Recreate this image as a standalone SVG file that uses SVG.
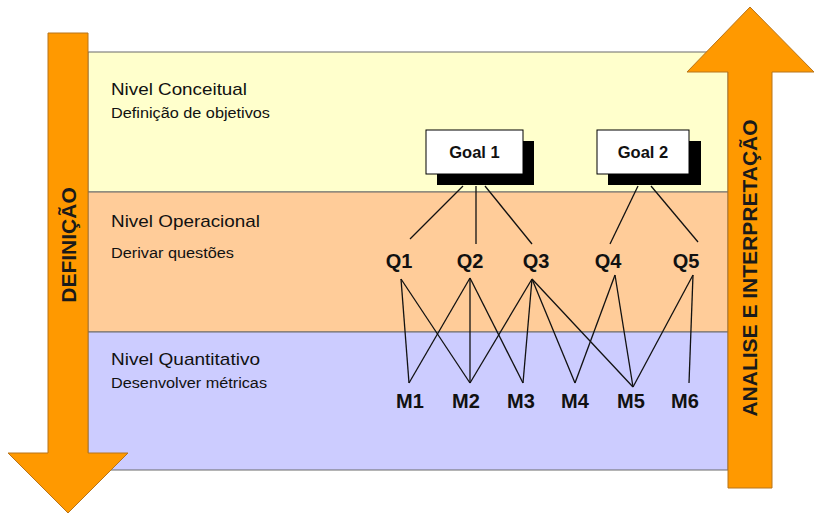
<svg xmlns="http://www.w3.org/2000/svg" width="815" height="514" viewBox="0 0 815 514">
  <style>
    .band { stroke: #6b6b6b; stroke-width: 1; }
    .arrow { fill: #ff9900; stroke: #b8741a; stroke-width: 1; }
    .arrowtxt { font-family: "Liberation Sans", Arial, sans-serif; font-weight: bold; font-size: 21px; fill: #1a1a1a; text-anchor: middle; }
    .lvl { font-family: "Liberation Sans", Arial, sans-serif; font-size: 17px; fill: #111; }
    .sub { font-family: "Liberation Sans", Arial, sans-serif; font-size: 14px; fill: #111; }
    .goal { fill: #fff; stroke: #000; stroke-width: 1; }
    .shadow { fill: #000; }
    .goaltxt { font-family: "Liberation Sans", Arial, sans-serif; font-weight: bold; font-size: 16.5px; fill: #111; text-anchor: middle; }
    .qm { font-family: "Liberation Sans", Arial, sans-serif; font-weight: bold; font-size: 20px; fill: #111; text-anchor: middle; }
    .link { stroke: #111; stroke-width: 1.3; fill: none; }
  </style>
  <rect width="815" height="514" fill="#ffffff"/>

  <!-- level bands -->
  <g id="bands">
    <rect class="band" x="88" y="52" width="640" height="140" fill="#ffffcc"/>
    <rect class="band" x="88" y="192" width="640" height="140" fill="#ffcc99"/>
    <rect class="band" x="88" y="332" width="640" height="138" fill="#ccccff"/>
    <text class="lvl" x="111" y="95" textLength="136" lengthAdjust="spacingAndGlyphs">Nivel Conceitual</text>
    <text class="sub" x="111" y="118" textLength="159" lengthAdjust="spacingAndGlyphs">Definição de objetivos</text>
    <text class="lvl" x="111" y="227" textLength="149" lengthAdjust="spacingAndGlyphs">Nivel Operacional</text>
    <text class="sub" x="111" y="258" textLength="123" lengthAdjust="spacingAndGlyphs">Derivar questões</text>
    <text class="lvl" x="111" y="365" textLength="149" lengthAdjust="spacingAndGlyphs">Nivel Quantitativo</text>
    <text class="sub" x="111" y="388" textLength="156" lengthAdjust="spacingAndGlyphs">Desenvolver métricas</text>
  </g>

  <!-- downward arrow: definition -->
  <g id="arrow-definicao">
    <polygon class="arrow" points="48,33 88,33 88,453 128,453 68,513 8,453 48,453"/>
    <text class="arrowtxt" transform="translate(76,245) rotate(-90)">DEFINIÇÃO</text>
  </g>

  <!-- upward arrow: analysis -->
  <g id="arrow-analise">
    <polygon class="arrow" points="728,488 772,488 772,72 814,72 750,7 687,72 728,72"/>
    <text class="arrowtxt" transform="translate(757,268) rotate(-90)">ANALISE E INTERPRETAÇÃO</text>
  </g>

  <!-- connectors -->
  <g id="connectors">
    <line class="link" x1="463" y1="186" x2="410" y2="239"/>
    <line class="link" x1="476" y1="186" x2="476" y2="244"/>
    <line class="link" x1="485" y1="186" x2="532" y2="244"/>
    <line class="link" x1="638" y1="186" x2="610" y2="244"/>
    <line class="link" x1="651" y1="186" x2="698" y2="242"/>

    <line class="link" x1="401" y1="279" x2="409" y2="383"/>
    <line class="link" x1="401" y1="279" x2="470" y2="383"/>
    <line class="link" x1="470" y1="278" x2="409" y2="383"/>
    <line class="link" x1="470" y1="278" x2="470" y2="383"/>
    <line class="link" x1="470" y1="278" x2="523" y2="383"/>
    <line class="link" x1="532" y1="279" x2="470" y2="383"/>
    <line class="link" x1="532" y1="279" x2="523" y2="383"/>
    <line class="link" x1="532" y1="279" x2="575" y2="383"/>
    <line class="link" x1="532" y1="279" x2="633" y2="387"/>
    <line class="link" x1="615" y1="275" x2="575" y2="383"/>
    <line class="link" x1="615" y1="275" x2="633" y2="387"/>
    <line class="link" x1="693" y1="275" x2="633" y2="387"/>
    <line class="link" x1="693" y1="275" x2="689" y2="383"/>
  </g>

  <!-- goals -->
  <g id="goal1">
    <rect class="shadow" x="437" y="141" width="97" height="44"/>
    <rect class="goal" x="426" y="130" width="97" height="44"/>
    <text class="goaltxt" x="474.5" y="158">Goal 1</text>
  </g>
  <g id="goal2">
    <rect class="shadow" x="608" y="141" width="93" height="44"/>
    <rect class="goal" x="597" y="130" width="92" height="44"/>
    <text class="goaltxt" x="643" y="158">Goal 2</text>
  </g>

  <!-- questions -->
  <g id="q1"><text class="qm" x="399" y="268">Q1</text></g>
  <g id="q2"><text class="qm" x="470" y="268">Q2</text></g>
  <g id="q3"><text class="qm" x="536" y="268">Q3</text></g>
  <g id="q4"><text class="qm" x="608" y="268">Q4</text></g>
  <g id="q5"><text class="qm" x="686" y="268">Q5</text></g>

  <!-- metrics -->
  <g id="m1"><text class="qm" x="410" y="408">M1</text></g>
  <g id="m2"><text class="qm" x="466" y="408">M2</text></g>
  <g id="m3"><text class="qm" x="521" y="408">M3</text></g>
  <g id="m4"><text class="qm" x="575" y="408">M4</text></g>
  <g id="m5"><text class="qm" x="631" y="408">M5</text></g>
  <g id="m6"><text class="qm" x="685" y="408">M6</text></g>
</svg>
